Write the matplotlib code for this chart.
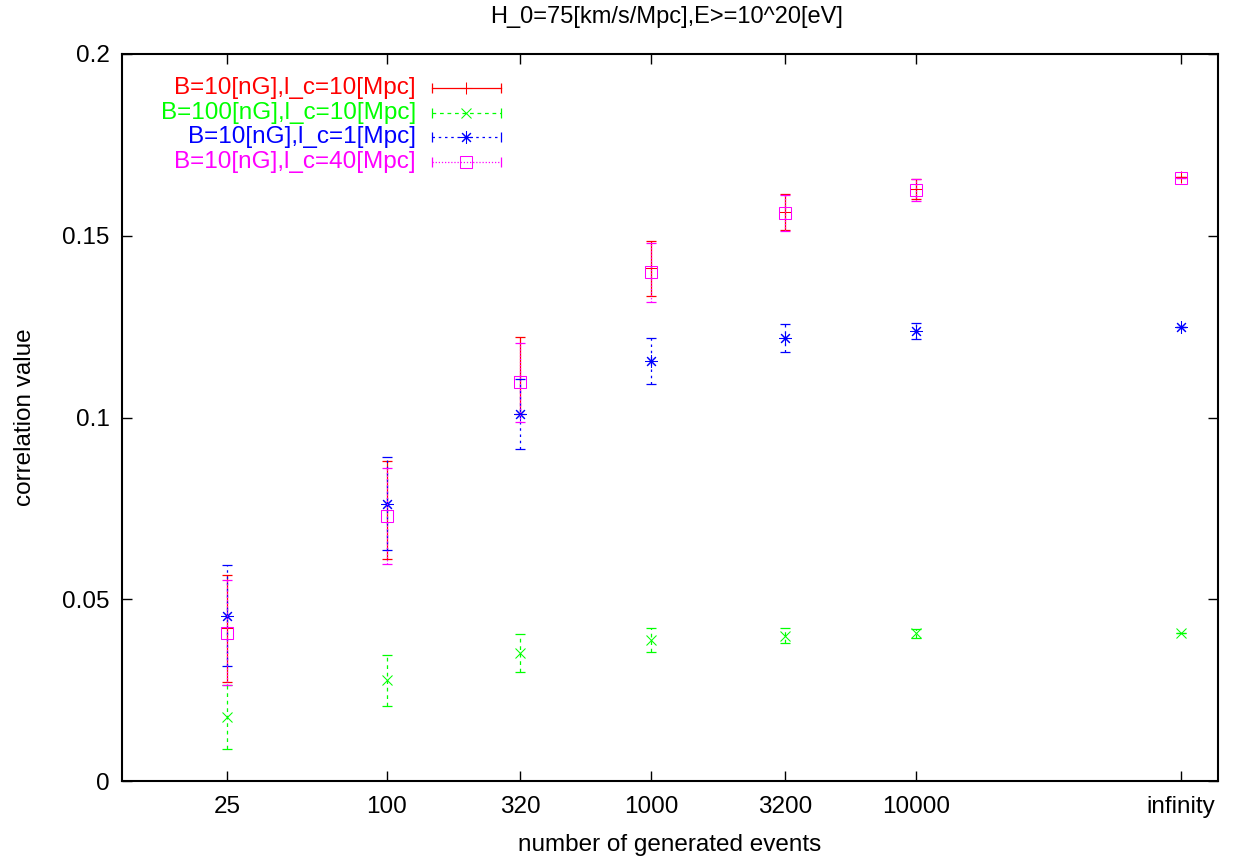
import matplotlib
matplotlib.use("Agg")
import matplotlib.pyplot as plt
from matplotlib.ticker import NullLocator, FixedLocator, FixedFormatter

plt.rcParams['font.family'] = ['Liberation Sans', 'DejaVu Sans']

# ---- data ----
x_vals = [25, 100, 320, 1000, 3200, 10000, 1e5]
x_labels = ['25', '100', '320', '1000', '3200', '10000', 'infinity']

red_y = [0.042, 0.0745, 0.1115, 0.1410, 0.1565, 0.1629, 0.1662]
red_err = [0.0148, 0.0134, 0.0106, 0.0075, 0.0050, 0.0028, 0.0]

green_y = [0.0176, 0.0277, 0.0352, 0.0388, 0.0400, 0.0406, 0.0408]
green_err = [0.0088, 0.0070, 0.0052, 0.0033, 0.0020, 0.0013, 0.0]

blue_y = [0.0455, 0.0763, 0.1010, 0.1155, 0.1219, 0.1238, 0.1249]
blue_err = [0.0140, 0.0127, 0.0097, 0.0064, 0.0039, 0.0022, 0.0]

mag_y = [0.0408, 0.0729, 0.1097, 0.1400, 0.1562, 0.1625, 0.1658]
mag_err = [0.0145, 0.0132, 0.0109, 0.0081, 0.0050, 0.0030, 0.0]

labels = ['B=10[nG],l_c=10[Mpc]', 'B=100[nG],l_c=10[Mpc]',
          'B=10[nG],l_c=1[Mpc]', 'B=10[nG],l_c=40[Mpc]']
colors = ['#ff0000', '#00ff00', '#0000ff', '#ff00ff']
markers = ['+', 'x', (8, 2, 0), 's']
msizes = [8, 7, 9, 8.5]
lstyles = ['-', (0, (3, 3)), (0, (2, 3)), (0, (1, 1.5))]

series = [(red_y, red_err), (green_y, green_err), (blue_y, blue_err), (mag_y, mag_err)]

FS = 17.5

fig = plt.figure(figsize=(12.33, 8.61), dpi=100)
ax = fig.add_axes([122/1233, 80/861, 1096/1233, 727/861])

for (yv, ev), c, m, ms, ls in zip(series, colors, markers, msizes, lstyles):
    cont = ax.errorbar(x_vals, yv, yerr=ev, fmt='none', ecolor=c, elinewidth=0.9,
                       capsize=3.8, capthick=0.9)
    for lc in cont[2]:
        lc.set_linestyle(ls)
    ax.plot(x_vals, yv, linestyle='none', marker=m, color=c, markersize=ms,
            markeredgewidth=0.75, fillstyle='none')

ax.set_xscale('log')
ax.set_xlim(10, 1.38e5)
ax.set_ylim(0, 0.2)
ax.xaxis.set_major_locator(FixedLocator(x_vals))
ax.xaxis.set_major_formatter(FixedFormatter(x_labels))
ax.xaxis.set_minor_locator(NullLocator())
ax.set_yticks([0, 0.05, 0.1, 0.15, 0.2])
ax.set_yticklabels(['0', '0.05', '0.1', '0.15', '0.2'])

ax.tick_params(axis='both', which='major', direction='in', length=7, width=1,
               top=True, right=True, labelsize=FS, pad=9)
ax.tick_params(axis='x', pad=11)
for sp in ax.spines.values():
    sp.set_linewidth(1.5)

ax.set_xlabel('number of generated events', fontsize=FS, labelpad=11)
ax.set_ylabel('correlation value', fontsize=FS, labelpad=19)
fig.text(667/1233, 1 - 17/861, 'H_0=75[km/s/Mpc],E>=10^20[eV]', ha='center', va='center',
         fontsize=17)

# ---- legend (gnuplot style) ----
W, H = 1096.0, 727.0
x_text = (416 - 122) / W
x0 = (432 - 122) / W
x1 = (501 - 122) / W
xm = (x0 + x1) / 2
for i, (lab, c, m, ms, ls) in enumerate(zip(labels, colors, markers, msizes, lstyles)):
    yy = (781 - (88 + 24.7 * i)) / H
    ax.text(x_text, yy, lab, color=c, fontsize=FS, ha='right', va='center',
            transform=ax.transAxes)
    ax.plot([x0, x1], [yy, yy], color=c, linestyle=ls, linewidth=0.9,
            transform=ax.transAxes, clip_on=False)
    ax.plot([x0, x1], [yy, yy], color=c, linestyle='none', marker='|', markersize=7,
            markeredgewidth=0.9, transform=ax.transAxes, clip_on=False)
    ax.plot([xm], [yy], color=c, linestyle='none', marker=m, markersize=ms,
            markeredgewidth=0.75, fillstyle='none', transform=ax.transAxes, clip_on=False)

fig.savefig('out.png', dpi=100)
